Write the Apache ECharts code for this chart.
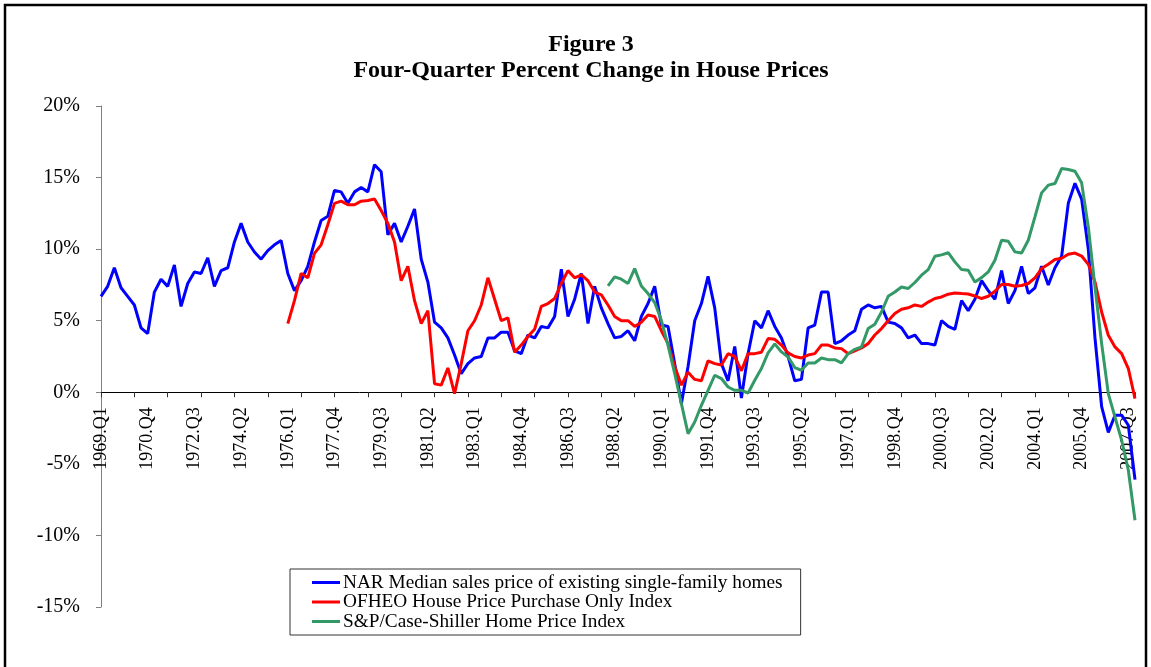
<!DOCTYPE html>
<html>
<head>
<meta charset="utf-8">
<title>Figure 3</title>
<script src="https://cdn.jsdelivr.net/npm/echarts@6/dist/echarts.min.js"></script>
<style>
  html, body { margin: 0; padding: 0; background: #fff; }
  #chart { width: 1151px; height: 667px; }
</style>
</head>
<body>
<div id="chart"></div>
<script>
// quarters 1969.Q1 .. 2007.Q4
var firstYear = 1969, lastYear = 2007;
var quarters = [];
for (var y = firstYear; y <= lastYear; y++) {
    for (var q = 1; q <= 4; q++) quarters.push(y + '.Q' + q);
}

var seriesNames = [
    'NAR Median sales price of existing single-family homes',
    'OFHEO House Price Purchase Only Index',
    'S&P/Case-Shiller Home Price Index'
];

// four-quarter % change
var nar = [
    6.7, 7.4, 8.7, 7.3, 6.7, 6.1, 4.5, 4.1, 7.0, 7.9, 7.4, 8.9, 6.0, 7.6, 8.4, 8.3,
    9.4, 7.4, 8.5, 8.7, 10.5, 11.8, 10.5, 9.8, 9.3, 9.9, 10.3, 10.6, 8.3, 7.1, 7.8, 8.8,
    10.5, 12.0, 12.3, 14.1, 14.0, 13.2, 14.0, 14.3, 14.0, 15.9, 15.4, 11.0, 11.8, 10.5, 11.6, 12.8,
    9.3, 7.7, 4.9, 4.5, 3.8, 2.6, 1.3, 2.0, 2.4, 2.5, 3.8, 3.8, 4.2, 4.2, 2.9, 2.7,
    4.0, 3.8, 4.6, 4.5, 5.3, 8.6, 5.3, 6.5, 8.3, 4.8, 7.4, 5.9, 4.8, 3.8, 3.9, 4.3,
    3.6, 5.3, 6.2, 7.4, 4.7, 4.6, 2.0, -0.8, 1.8, 5.0, 6.2, 8.1, 5.9, 2.0, 0.8, 3.2,
    -0.4, 2.7, 5.0, 4.5, 5.7, 4.6, 3.8, 2.5, 0.8, 0.9, 4.5, 4.7, 7.0, 7.0, 3.4, 3.6,
    4.0, 4.3, 5.8, 6.1, 5.9, 6.0, 4.9, 4.8, 4.5, 3.8, 4.0, 3.4, 3.4, 3.3, 5.0, 4.6,
    4.4, 6.4, 5.7, 6.5, 7.8, 7.1, 6.5, 8.5, 6.2, 7.1, 8.8, 6.9, 7.3, 8.8, 7.5, 8.7,
    9.5, 13.2, 14.6, 13.5, 10.0, 3.8, -1.0, -2.8, -1.6, -1.6, -2.3, -6.1
];

var ofheo = [
    null, null, null, null, null, null, null, null, null, null, null, null, null, null, null, null,
    null, null, null, null, null, null, null, null, null, null, null, null, 4.8, 6.4, 8.3, 8.0,
    9.7, 10.3, 11.7, 13.2, 13.35, 13.1, 13.1, 13.35, 13.4, 13.5, 12.7, 11.8, 10.5, 7.8, 8.8, 6.4,
    4.8, 5.7, 0.6, 0.5, 1.7, -0.1, 2.0, 4.3, 5.0, 6.1, 8.0, 6.5, 5.0, 5.2, 2.8, 3.3,
    3.9, 4.4, 6.0, 6.2, 6.55, 7.6, 8.5, 8.0, 8.2, 7.8, 7.0, 6.8, 6.1, 5.3, 5.0, 5.0,
    4.6, 4.9, 5.4, 5.3, 4.3, 3.4, 1.8, 0.5, 1.4, 0.9, 0.8, 2.2, 2.0, 1.9, 2.7, 2.5,
    1.5, 2.7, 2.7, 2.8, 3.75, 3.7, 3.3, 2.75, 2.5, 2.4, 2.6, 2.7, 3.3, 3.3, 3.1, 3.05,
    2.7, 2.9, 3.1, 3.4, 4.0, 4.45, 5.0, 5.5, 5.8, 5.9, 6.1, 6.0, 6.3, 6.55, 6.66, 6.85,
    6.94, 6.9, 6.87, 6.73, 6.55, 6.71, 7.06, 7.53, 7.53, 7.41, 7.46, 7.6, 8.0, 8.64, 8.94, 9.27,
    9.36, 9.64, 9.73, 9.52, 8.94, 7.71, 5.61, 3.98, 3.17, 2.7, 1.66, -0.44
];

var caseShiller = [
    null, null, null, null, null, null, null, null, null, null, null, null, null, null, null, null,
    null, null, null, null, null, null, null, null, null, null, null, null, null, null, null, null,
    null, null, null, null, null, null, null, null, null, null, null, null, null, null, null, null,
    null, null, null, null, null, null, null, null, null, null, null, null, null, null, null, null,
    null, null, null, null, null, null, null, null, null, null, null, null, 7.43, 8.06, 7.9, 7.6,
    8.64, 7.43, 6.9, 6.27, 5.03, 3.28, 1.31, -0.79, -2.89, -2.08, -0.91, 0.14, 1.19, 0.96, 0.37, 0.14,
    0.14, -0.05, 0.84, 1.66, 2.75, 3.38, 2.82, 2.47, 1.73, 1.54, 2.05, 2.05, 2.4, 2.28, 2.28, 2.05,
    2.7, 3.0, 3.17, 4.45, 4.75, 5.61, 6.71, 7.01, 7.36, 7.25, 7.67, 8.18, 8.57, 9.5, 9.6, 9.75,
    9.11, 8.57, 8.53, 7.71, 8.01, 8.41, 9.22, 10.62, 10.55, 9.81, 9.73, 10.62, 12.25, 13.93, 14.47, 14.58,
    15.63, 15.56, 15.44, 14.63, 11.55, 7.36, 3.4, -0.09, -1.73, -3.35, -5.45, -8.94
];

var lineColors = ['#0000ff', '#ff0000', '#339966'];
var serif = 'Liberation Serif';

// plot box in pixels; the x axis is lifted from the bottom edge up to the 0% line
var gridTop = 106, gridBottom = 60, chartHeight = 667;
var yMin = -15, yMax = 20;
var plotHeight = chartHeight - gridTop - gridBottom;
var zeroLift = plotHeight * (0 - yMin) / (yMax - yMin);

var chart = echarts.init(document.getElementById('chart'));

function lineSeries(name, data, color) {
    return {
        name: name,
        type: 'line',
        data: data,
        showSymbol: false,
        symbol: 'none',
        connectNulls: false,
        lineStyle: { color: color, width: 3 },
        itemStyle: { color: color },
        emphasis: { disabled: true },
        animation: false
    };
}

chart.setOption({
    backgroundColor: '#fff',
    animation: false,
    title: {
        text: 'Figure 3\nFour-Quarter Percent Change in House Prices',
        left: 586,
        top: 27,
        textAlign: 'center',
        textStyle: {
            fontFamily: serif,
            fontWeight: 'bold',
            fontSize: 24,
            lineHeight: 26,
            color: '#000'
        }
    },
    graphic: [{
        type: 'rect',
        shape: { x: 5, y: 5, width: 1141, height: 700 },
        style: { fill: 'none', stroke: '#000', lineWidth: 2.5 },
        silent: true
    }],
    legend: {
        data: seriesNames,
        orient: 'vertical',
        left: 290,
        top: 569,
        icon: 'rect',
        itemWidth: 28,
        itemHeight: 3,
        itemGap: 0.5,
        padding: [4, 18, 4, 22],
        borderColor: '#333',
        borderWidth: 1,
        textStyle: { fontFamily: serif, fontSize: 19.3, color: '#000', padding: [0, 0, 0, -2] },
        selectedMode: false
    },
    grid: {
        left: 101,
        right: 16,
        top: gridTop,
        bottom: gridBottom,
        outerBoundsMode: 'none'
    },
    xAxis: {
        type: 'category',
        data: quarters,
        boundaryGap: false,
        position: 'bottom',
        offset: -zeroLift,
        axisLine: { onZero: false, lineStyle: { color: '#000', width: 1 } },
        axisTick: { show: true, interval: 4, length: 5, inside: false, lineStyle: { color: '#333' } },
        axisLabel: {
            interval: 6,
            rotate: 90,
            margin: 15,
            fontFamily: serif,
            fontSize: 18,
            color: '#000',
            hideOverlap: false
        },
        splitLine: { show: false }
    },
    yAxis: {
        type: 'value',
        min: yMin,
        max: yMax,
        interval: 5,
        axisLine: { show: true, lineStyle: { color: '#808080' } },
        axisTick: { show: true, length: 5, lineStyle: { color: '#808080' } },
        axisLabel: {
            formatter: '{value}%',
            margin: 21,
            fontFamily: serif,
            fontSize: 20,
            color: '#000'
        },
        splitLine: { show: false }
    },
    series: [
        lineSeries(seriesNames[0], nar, lineColors[0]),
        lineSeries(seriesNames[1], ofheo, lineColors[1]),
        lineSeries(seriesNames[2], caseShiller, lineColors[2])
    ]
});
</script>
</body>
</html>
